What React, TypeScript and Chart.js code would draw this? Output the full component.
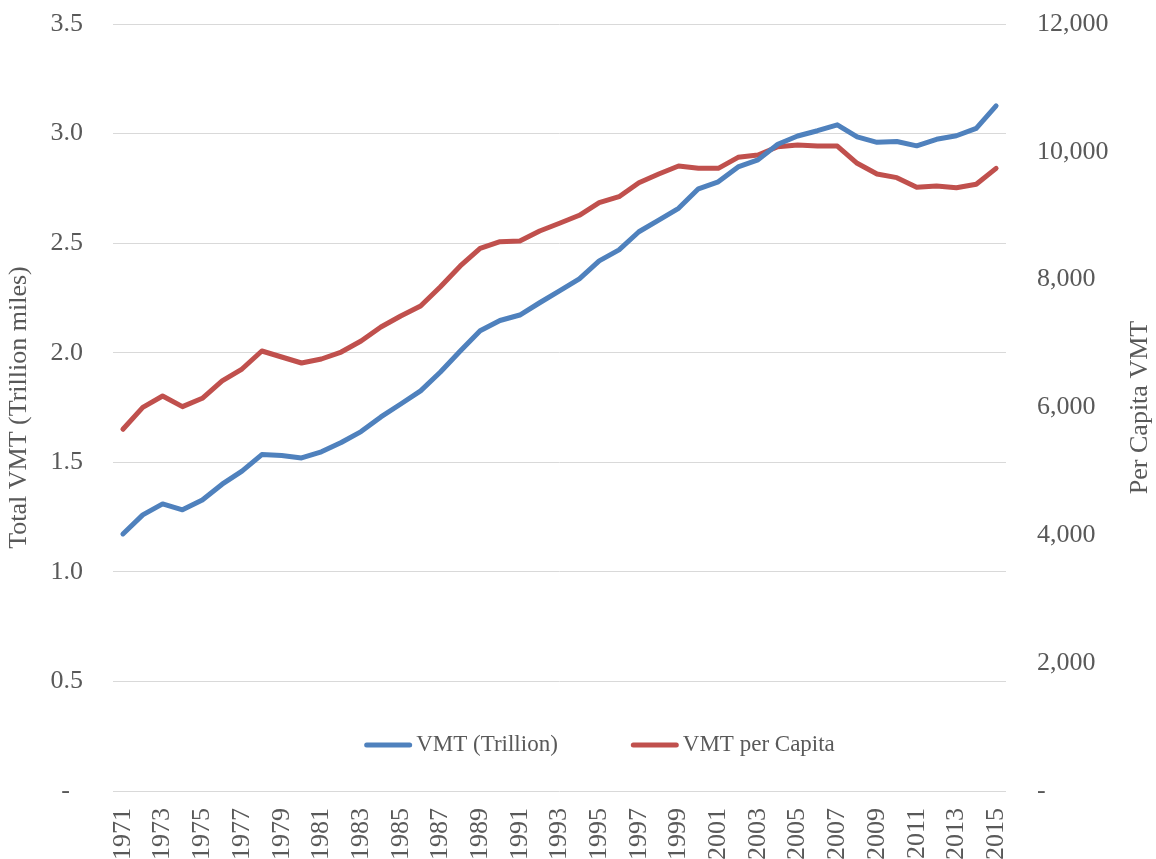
import React, { useEffect, useRef } from "react";
import { Chart, registerables } from "chart.js";

Chart.register(...registerables);

const years: string[] = [
  "1971", "1972", "1973", "1974", "1975", "1976", "1977", "1978", "1979", "1980",
  "1981", "1982", "1983", "1984", "1985", "1986", "1987", "1988", "1989", "1990",
  "1991", "1992", "1993", "1994", "1995", "1996", "1997", "1998", "1999", "2000",
  "2001", "2002", "2003", "2004", "2005", "2006", "2007", "2008", "2009", "2010",
  "2011", "2012", "2013", "2014", "2015",
];

const vmtTrillion: number[] = [
  1.173, 1.26, 1.31, 1.283, 1.328, 1.4, 1.46, 1.535, 1.531, 1.52,
  1.548, 1.59, 1.64, 1.707, 1.766, 1.826, 1.912, 2.008, 2.1, 2.147,
  2.172, 2.228, 2.282, 2.337, 2.419, 2.469, 2.552, 2.605, 2.659, 2.748,
  2.78, 2.848, 2.88, 2.951, 2.989, 3.013, 3.04, 2.985, 2.96, 2.964,
  2.944, 2.974, 2.99, 3.024, 3.126,
];

const vmtPerCapita: number[] = [
  5660, 6003, 6180, 6013, 6144, 6415, 6602, 6884, 6790, 6696,
  6759, 6868, 7040, 7259, 7432, 7588, 7890, 8214, 8490, 8594,
  8605, 8761, 8882, 9007, 9204, 9298, 9517, 9653, 9779, 9742,
  9742, 9914, 9950, 10080, 10107, 10091, 10091, 9821, 9653, 9596,
  9445, 9465, 9439, 9492, 9742,
];

const seriesLabels: string[] = ["VMT (Trillion)", "VMT per Capita"];
const leftTitle = "Total VMT (Trillion miles)";
const rightTitle = "Per Capita VMT";

const FONT = '"Liberation Serif", "Times New Roman", serif';
const TEXT = "#595959";
const BLUE = "#4F81BD";
const RED = "#C0504D";
const LINE_W = 5;

const insideLegend = {
  id: "insideLegend",
  afterDraw(chart: any) {
    const ctx = chart.ctx as CanvasRenderingContext2D;
    const area = chart.chartArea;
    ctx.save();
    ctx.font = `23px ${FONT}`;
    ctx.textBaseline = "middle";
    ctx.textAlign = "left";
    const items = chart.data.datasets.map((ds: any) => ({
      text: ds.label as string,
      color: ds.borderColor as string,
    }));
    const lineLen = 48;
    const gap = 4;
    const itemGap = 73;
    const widths = items.map((it: any) => lineLen + gap + ctx.measureText(it.text).width);
    const total = widths.reduce((a: number, b: number) => a + b, 0) + itemGap * (items.length - 1);
    let x = (area.left + area.right) / 2 + 40 - total / 2;
    const y = area.bottom - 46;
    items.forEach((it: any, i: number) => {
      ctx.strokeStyle = it.color;
      ctx.lineWidth = LINE_W;
      ctx.lineCap = "round";
      ctx.beginPath();
      ctx.moveTo(x + LINE_W / 2, y);
      ctx.lineTo(x + lineLen - LINE_W / 2, y);
      ctx.stroke();
      ctx.fillStyle = TEXT;
      ctx.fillText(it.text, x + lineLen + gap, y);
      x += widths[i] + itemGap;
    });
    ctx.restore();
  },
};

// Right-hand axis title, written bottom-to-top like the left one
const rightAxisTitle = {
  id: "rightAxisTitle",
  afterDraw(chart: any) {
    const ctx = chart.ctx as CanvasRenderingContext2D;
    const area = chart.chartArea;
    const scale = chart.scales.y1;
    ctx.save();
    ctx.font = `26px ${FONT}`;
    ctx.fillStyle = TEXT;
    ctx.textAlign = "center";
    ctx.textBaseline = "middle";
    ctx.translate(scale.right - 16, (area.top + area.bottom) / 2);
    ctx.rotate(-Math.PI / 2);
    ctx.fillText(rightTitle, 0, 0);
    ctx.restore();
  },
};

const fitVertical = (width: number) => (scale: any) => {
  scale.width = width;
  scale.paddingTop = 0;
  scale.paddingBottom = 0;
};

export default function App() {
  const canvasRef = useRef<HTMLCanvasElement | null>(null);

  useEffect(() => {
    document.body.style.margin = "0";
    const canvas = canvasRef.current;
    if (!canvas) return;
    const chart = new Chart(canvas, {
      type: "line",
      data: {
        labels: years,
        datasets: [
          {
            label: seriesLabels[0],
            data: vmtTrillion,
            borderColor: BLUE,
            backgroundColor: BLUE,
            borderWidth: LINE_W,
            pointRadius: 0,
            tension: 0,
            borderCapStyle: "round",
            borderJoinStyle: "round",
            yAxisID: "y",
          },
          {
            label: seriesLabels[1],
            data: vmtPerCapita,
            borderColor: RED,
            backgroundColor: RED,
            borderWidth: LINE_W,
            pointRadius: 0,
            tension: 0,
            borderCapStyle: "round",
            borderJoinStyle: "round",
            yAxisID: "y1",
          },
        ],
      },
      options: {
        responsive: false,
        animation: false,
        devicePixelRatio: 1,
        layout: { padding: { top: 24, left: 0, right: 0, bottom: 0 } },
        plugins: {
          legend: { display: false },
          tooltip: { enabled: false },
        },
        scales: {
          x: {
            type: "category",
            offset: true,
            grid: { display: false, drawTicks: false },
            border: { display: false },
            ticks: {
              autoSkip: false,
              maxRotation: 90,
              minRotation: 90,
              padding: 17,
              color: TEXT,
              font: { family: FONT, size: 26 },
              callback: (_v: any, i: number) => (i % 2 === 0 ? years[i] : ""),
            },
            afterFit: (scale: any) => {
              scale.height = 68;
            },
          },
          y: {
            position: "left",
            min: 0,
            max: 3.5,
            grid: { color: "#D9D9D9", lineWidth: 1, drawTicks: false },
            border: { display: false },
            ticks: {
              stepSize: 0.5,
              padding: 30,
              color: TEXT,
              font: { family: FONT, size: 26 },
              callback: (v: any) => (Number(v) === 0 ? "-  " : Number(v).toFixed(1)),
            },
            title: {
              display: true,
              text: leftTitle,
              color: TEXT,
              font: { family: FONT, size: 26 },
              padding: { top: 4, bottom: 0 },
            },
            afterFit: fitVertical(113),
          },
          y1: {
            position: "right",
            min: 0,
            max: 12000,
            grid: { drawOnChartArea: false, drawTicks: false },
            border: { display: false },
            ticks: {
              stepSize: 2000,
              padding: 31,
              color: TEXT,
              font: { family: FONT, size: 26 },
              callback: (v: any) => (Number(v) === 0 ? "-" : Number(v).toLocaleString("en-US")),
            },
            title: { display: false, text: rightTitle },
            afterFit: fitVertical(150),
          },
        },
      },
      plugins: [insideLegend, rightAxisTitle],
    });
    return () => chart.destroy();
  }, []);

  return (
    <div style={{ position: "fixed", left: 0, top: 0, width: 1156, height: 859 }}>
      <canvas ref={canvasRef} width={1156} height={859} />
    </div>
  );
}
